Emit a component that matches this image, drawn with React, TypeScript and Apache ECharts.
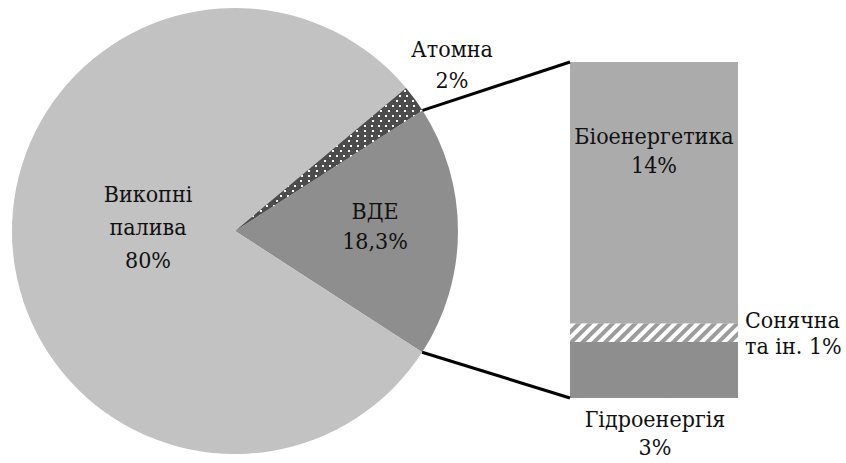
import React, { useEffect, useRef } from "react";
import * as echarts from "echarts";

// Pie data
const pieNames = ["ВДЕ", "Викопні\nпалива", "Атомна"];
const pieValues = [18.3, 80, 2];
// Bar (breakdown of ВДЕ) data, bottom to top
const barNames = ["Гідроенергія", "Сонячна\nта ін.", "Біоенергетика"];
const barValues = [3, 1, 14];
const barJoin = ["\n", " ", "\n"];

const fmt = (v: number) => String(v).replace(".", ",") + "%";

const FONT = "'DejaVu Serif Condensed', 'DejaVu Serif'";
const FS = 23;
const CX = 235, CY = 231, R = 223;
const GRID = { left: 570, top: 62, width: 168, height: 336 };

export default function App() {
  const ref = useRef<HTMLDivElement>(null);
  useEffect(() => {
    const chart = echarts.init(ref.current!, null, { renderer: "svg" });
    const total = pieValues.reduce((a, b) => a + b, 0);
    const vdeAngle = (pieValues[0] / total) * 360;
    const startAngle = vdeAngle / 2 - 0.1;
    const rad = (d: number) => (d * Math.PI) / 180;
    const up = [CX + R * Math.cos(rad(startAngle)), CY - R * Math.sin(rad(startAngle))];
    const lo = [CX + R * Math.cos(rad(startAngle - vdeAngle)), CY - R * Math.sin(rad(startAngle - vdeAngle))];

    const pieLabelPos = [
      { x: 375, y: 226, lh: 30 },
      { x: 148, y: 227, lh: 33 },
      { x: 452, y: 64, lh: 31 },
    ];
    const barLabelPos = [
      { x: 655, y: 433, lh: 28, align: "center", fs: FS },
      { x: 745, y: 333, lh: 26, align: "left", fs: FS },
      { x: 654, y: 150, lh: 29, align: "center", fs: FS },
    ];
    const pieColors = ["#8e8e8e", "#c2c2c2", "#4c4c4c"];
    const barColors = ["#8e8e8e", "#9c9c9c", "#ababab"];

    chart.setOption({
      animation: false,
      textStyle: { fontFamily: FONT },
      grid: { ...GRID },
      xAxis: { type: "category", data: ["ВДЕ"], show: false },
      yAxis: { type: "value", min: 0, max: 18, show: false },
      graphic: [
        { type: "line", shape: { x1: up[0], y1: up[1], x2: GRID.left, y2: GRID.top }, style: { stroke: "#000", lineWidth: 3 }, z: 10 },
        { type: "line", shape: { x1: lo[0], y1: lo[1], x2: GRID.left, y2: GRID.top + GRID.height }, style: { stroke: "#000", lineWidth: 3 }, z: 10 },
      ],
      series: [
        {
          type: "pie",
          center: [CX, CY],
          radius: R,
          startAngle,
          clockwise: true,
          labelLine: { show: false },
          data: pieNames.map((n, i) => ({
            name: n,
            value: pieValues[i],
            itemStyle: {
              color: pieColors[i],
              decal:
                i === 2
                  ? { symbol: "rect", symbolSize: 1, color: "#ffffff", dashArrayX: [[2, 5], [0, 3.5, 2, 1.5]], dashArrayY: [2, 3], rotation: 0 }
                  : undefined,
            },
            label: {
              show: true,
              position: "inside",
              formatter: n + "\n" + fmt(pieValues[i]),
              fontFamily: FONT,
              fontSize: FS,
              color: "#111",
              lineHeight: pieLabelPos[i].lh,
              align: "center",
            },
          })),
          labelLayout: (p: any) => ({
            x: pieLabelPos[p.dataIndex].x,
            y: pieLabelPos[p.dataIndex].y,
            align: "center",
            verticalAlign: "middle",
          }),
          emphasis: { disabled: true },
        },
        ...barNames.map((n, i) => ({
          type: "bar",
          stack: "v",
          barWidth: "100%",
          name: n,
          data: [
            {
              value: barValues[i],
              itemStyle: {
                color: barColors[i],
                decal:
                  i === 1
                    ? { symbol: "rect", symbolSize: 1, color: "#ffffff", dashArrayX: [1, 0], dashArrayY: [4, 4], rotation: -Math.PI / 4 }
                    : undefined,
              },
            },
          ],
          label: {
            show: true,
            formatter: n + barJoin[i] + fmt(barValues[i]),
            fontFamily: FONT,
            fontSize: barLabelPos[i].fs,
            color: "#111",
            lineHeight: barLabelPos[i].lh,
            align: barLabelPos[i].align,
          },
          labelLayout: () => ({
            x: barLabelPos[i].x,
            y: barLabelPos[i].y,
            align: barLabelPos[i].align,
            verticalAlign: "middle",
          }),
          emphasis: { disabled: true },
        })),
      ],
    });
    return () => chart.dispose();
  }, []);
  return <div ref={ref} style={{ width: 846, height: 463, position: "absolute", left: 0, top: 0 }} />;
}
